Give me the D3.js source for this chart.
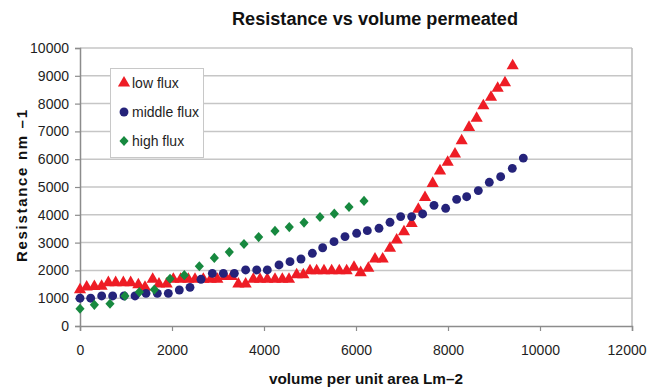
<!DOCTYPE html>
<html>
<head>
<meta charset="utf-8">
<script src="https://cdn.jsdelivr.net/npm/d3@7"></script>
<style>
  html, body { margin: 0; padding: 0; background: #fff; }
  svg { display: block; font-family: "Liberation Sans", Arial, sans-serif; }
</style>
</head>
<body>
<svg id="chart" width="647" height="389"></svg>
<script>
// Resistance measurements against volume permeated, three flux levels
const lowFluxX = [0, 145, 312, 470, 616, 775, 942, 1101, 1268, 1413, 1580, 1717, 1884, 2029, 2188, 2355, 2500, 2681, 2841, 2986,
  3152, 3297, 3442, 3601, 3768, 3913, 4072, 4239, 4398, 4543, 4710, 4855, 5000, 5145, 5304, 5471, 5637, 5797, 5957, 6101,
  6268, 6413, 6580, 6739, 6884, 7043, 7210, 7355, 7500, 7667, 7826, 7993, 8152, 8297, 8457, 8623, 8768, 8935, 9080, 9239, 9406];
const lowFluxY = [1300, 1400, 1420, 1430, 1560, 1560, 1560, 1560, 1480, 1390, 1680, 1510, 1510, 1680, 1680, 1680, 1680, 1680, 1680, 1680,
  1780, 1780, 1510, 1510, 1680, 1680, 1680, 1680, 1680, 1680, 1840, 1840, 1990, 1990, 1990, 1990, 1990, 1990, 2110, 1920,
  2075, 2410, 2410, 2795, 3090, 3390, 3690, 4200, 4620, 5130, 5580, 5890, 6190, 6665, 7145, 7470, 7925, 8225, 8550, 8750, 9360];

const midFluxX = [0, 232, 471, 710, 957, 1196, 1435, 1681, 1920, 2159, 2391, 2630, 2877, 3116, 3355, 3601, 3841, 4072, 4326, 4565,
  4804, 5051, 5275, 5522, 5761, 6014, 6246, 6500, 6739, 6971, 7210, 7449, 7696, 7949, 8188, 8406, 8659, 8898, 9145, 9398, 9637];
const midFluxY = [1000, 1000, 1080, 1080, 1080, 1080, 1175, 1175, 1175, 1295, 1390, 1680, 1895, 1895, 1895, 2015, 2015, 2015, 2195, 2315,
  2410, 2615, 2815, 3035, 3215, 3335, 3430, 3515, 3730, 3935, 3935, 4030, 4340, 4235, 4555, 4650, 4870, 5170, 5370, 5670, 6040];

const highFluxX = [0, 312, 652, 978, 1290, 1616, 1957, 2268, 2594, 2920, 3246, 3565, 3884, 4239, 4550, 4870, 5217, 5529, 5848, 6174];
const highFluxY = [620, 760, 800, 1080, 1220, 1310, 1700, 1830, 2150, 2450, 2660, 2950, 3200, 3420, 3560, 3720, 3920, 4040, 4280, 4500];

const xTicks = [0, 2000, 4000, 6000, 8000, 10000, 12000];
const yTicks = [0, 1000, 2000, 3000, 4000, 5000, 6000, 7000, 8000, 9000, 10000];

// square turned on its corner, a little wider than d3.symbolDiamond
const squareDiamond = {
  draw(context, size) {
    const r = Math.sqrt(size / 2);
    context.moveTo(0, -r);
    context.lineTo(r * 0.9, 0);
    context.lineTo(0, r);
    context.lineTo(-r * 0.9, 0);
    context.closePath();
  }
};

const seriesNames = ["low flux", "middle flux", "high flux"];
const seriesColors = ["#ee1c25", "#25237a", "#17893f"];
const seriesShapes = [d3.symbolTriangle, d3.symbolCircle, squareDiamond];
const seriesSizes = [64, 62, 52];

const series = [
  { x: lowFluxX, y: lowFluxY },
  { x: midFluxX, y: midFluxY },
  { x: highFluxX, y: highFluxY }
].map((s, i) => ({
  name: seriesNames[i], color: seriesColors[i], shape: seriesShapes[i], size: seriesSizes[i],
  points: s.x.map((v, j) => ({ x: v, y: s.y[j] }))
}));

const svg = d3.select("#chart");
const plot = { left: 80, right: 632, top: 48, bottom: 326 };

const x = d3.scaleLinear().domain([0, 12000]).range([plot.left, plot.right]);
const y = d3.scaleLinear().domain([0, 10000]).range([plot.bottom, plot.top]);

// horizontal gridlines
svg.append("g")
  .selectAll("line")
  .data(yTicks.filter(d => d > 0))
  .join("line")
  .attr("x1", plot.left).attr("x2", plot.right)
  .attr("y1", d => y(d)).attr("y2", d => y(d))
  .attr("stroke", "#c6c6c6").attr("stroke-width", 1.5);

// right border of the plot
svg.append("line")
  .attr("x1", plot.right).attr("x2", plot.right)
  .attr("y1", plot.top).attr("y2", plot.bottom)
  .attr("stroke", "#b8b8b8").attr("stroke-width", 1.5);

// axes
const xAxis = svg.append("g")
  .attr("transform", `translate(0,${plot.bottom})`)
  .call(d3.axisBottom(x).tickValues(xTicks).tickFormat(d3.format("d")).tickSize(5).tickPadding(14));
const yAxis = svg.append("g")
  .attr("transform", `translate(${plot.left},0)`)
  .call(d3.axisLeft(y).tickValues(yTicks).tickFormat(d3.format("d")).tickSize(5).tickPadding(6));

[xAxis, yAxis].forEach(g => {
  g.select(".domain").attr("stroke", "#8c8c8c").attr("stroke-width", 1.5);
  g.selectAll(".tick line").attr("stroke", "#8c8c8c").attr("stroke-width", 1.2);
  g.selectAll(".tick text")
    .attr("fill", "#1e1e1e")
    .style("font-size", "14px")
    .style("font-family", "'Liberation Sans', Arial, sans-serif");
});
// keep the last x label inside the window
xAxis.selectAll(".tick text")
  .filter(d => d === 12000)
  .attr("text-anchor", "end")
  .attr("dx", 14);

// markers
series.forEach(s => {
  svg.append("g")
    .selectAll("path")
    .data(s.points)
    .join("path")
    .attr("transform", d => `translate(${x(d.x)},${y(d.y)})`)
    .attr("d", d3.symbol().type(s.shape).size(s.size))
    .attr("fill", s.color);
});

// title
svg.append("text")
  .attr("x", 375).attr("y", 25)
  .attr("text-anchor", "middle")
  .attr("font-size", 18).attr("font-weight", "bold")
  .attr("fill", "#111")
  .attr("textLength", 286).attr("lengthAdjust", "spacingAndGlyphs")
  .text("Resistance vs volume permeated");

// axis titles
svg.append("text")
  .attr("x", 366).attr("y", 384)
  .attr("text-anchor", "middle")
  .attr("font-size", 15).attr("font-weight", "bold")
  .attr("fill", "#111")
  .attr("textLength", 194).attr("lengthAdjust", "spacingAndGlyphs")
  .text("volume per unit area Lm\u20132");

svg.append("text")
  .attr("transform", "translate(27,186) rotate(-90)")
  .attr("text-anchor", "middle")
  .attr("font-size", 15).attr("font-weight", "bold")
  .attr("fill", "#111")
  .attr("textLength", 152).attr("lengthAdjust", "spacing")
  .text("Resistance nm \u20131");

// legend
const legend = svg.append("g");
legend.append("rect")
  .attr("x", 110.5).attr("y", 68.5).attr("width", 93).attr("height", 89)
  .attr("fill", "#fff").attr("stroke", "#c8c8c8").attr("stroke-width", 1);
series.forEach((s, i) => {
  const cy = 83 + i * 29;
  legend.append("path")
    .attr("transform", `translate(124,${cy})`)
    .attr("d", d3.symbol().type(s.shape).size(s.size))
    .attr("fill", s.color);
  legend.append("text")
    .attr("x", 132).attr("y", cy + 5)
    .attr("font-size", 14).attr("fill", "#1e1e1e")
    .text(s.name);
});
</script>
</body>
</html>
